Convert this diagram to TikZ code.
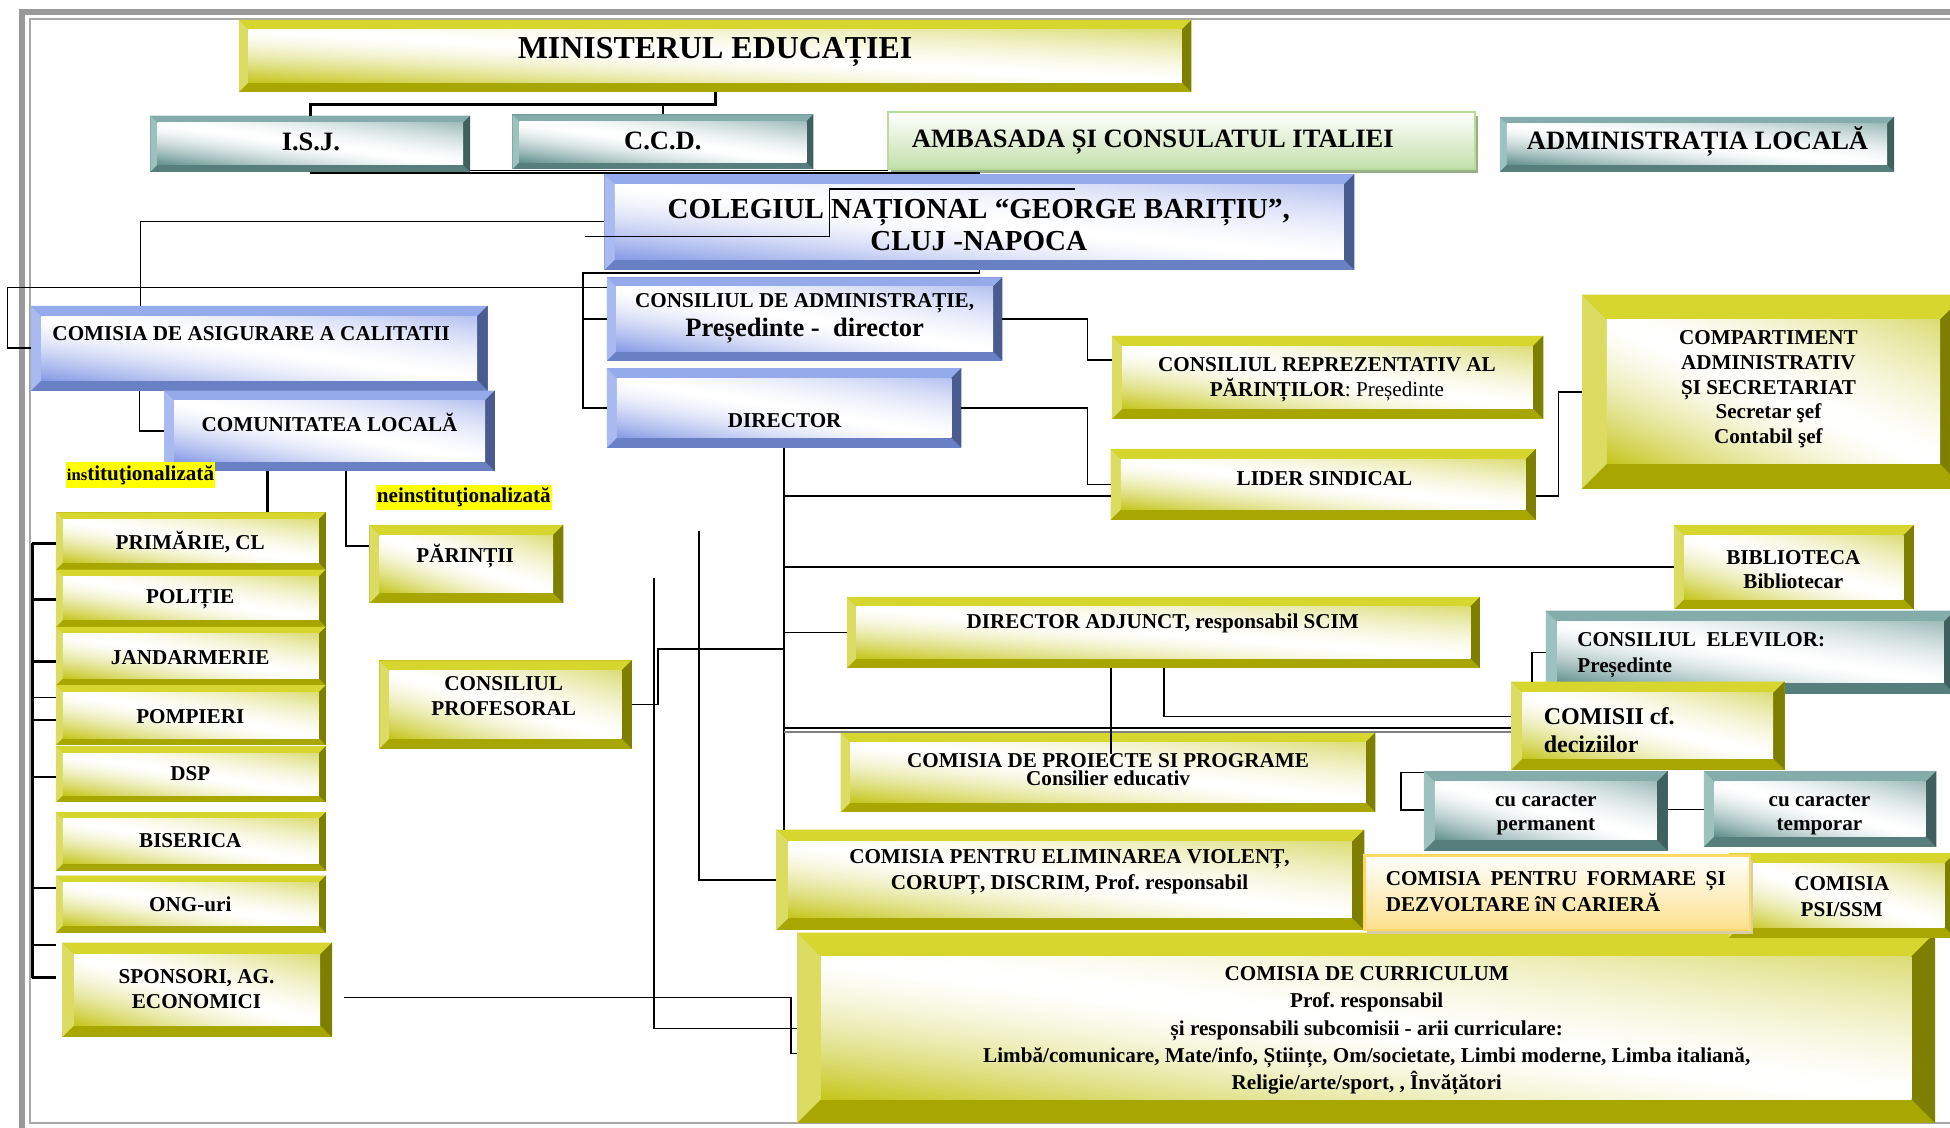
\documentclass[tikz,border=0pt]{standalone}
\usepackage{fontspec}
\setmainfont{Liberation Serif}
\usetikzlibrary{fit,calc,shadows}

\definecolor{olT}{HTML}{D6D62E}
\definecolor{olL}{HTML}{DCDC62}
\definecolor{olB}{HTML}{A8A600}
\definecolor{olR}{HTML}{7E7E00}
\definecolor{tlT}{HTML}{84ACAA}
\definecolor{tlL}{HTML}{9DC1BF}
\definecolor{tlB}{HTML}{557E7C}
\definecolor{tlR}{HTML}{3F605E}
\definecolor{blT}{HTML}{94AAEA}
\definecolor{blL}{HTML}{A8BAF0}
\definecolor{blB}{HTML}{6A80C4}
\definecolor{blR}{HTML}{4A5B90}
\definecolor{grO}{HTML}{B8DC9E}
\definecolor{grF}{HTML}{C2E0AA}
\definecolor{grS}{HTML}{98B088}
\definecolor{peO}{HTML}{FFD966}
\definecolor{peF}{HTML}{FDE08C}
\definecolor{peS}{HTML}{D9CDA6}
\definecolor{framegray}{HTML}{999999}
\definecolor{hilite}{HTML}{FFFF00}

% face shadings: colour in the lower left corner, white band on the
% other diagonal, lighter colour in the upper right corner
\pgfdeclarefunctionalshading{olface}{\pgfpointorigin}{\pgfpoint{100bp}{100bp}}{}{
  add 50 div 2 sub dup abs dup sqrt 3 1 roll 0.8 mul exch 0.2 mul sub mul
  dup 0.23 mul 1 exch sub exch dup 0.23 mul 1 exch sub exch 0.9 mul 1 exch sub}
\pgfdeclarefunctionalshading{tlface}{\pgfpointorigin}{\pgfpoint{100bp}{100bp}}{}{
  add 50 div 2 sub dup abs dup sqrt 3 1 roll 0.8 mul exch 0.2 mul sub mul
  dup 0.63 mul 1 exch sub exch dup 0.44 mul 1 exch sub exch 0.45 mul 1 exch sub}
\pgfdeclarefunctionalshading{blface}{\pgfpointorigin}{\pgfpoint{100bp}{100bp}}{}{
  add 50 div 2 sub dup abs dup sqrt 3 1 roll 0.8 mul exch 0.2 mul sub mul
  dup 0.48 mul 1 exch sub exch dup 0.40 mul 1 exch sub exch 0.10 mul 1 exch sub}

\newcommand{\txtnorm}{\fontsize{10.2}{12}\selectfont}
\newcommand{\txtmid}{\fontsize{12.8}{15}\selectfont}
\newcommand{\txtbig}{\fontsize{15.4}{18}\selectfont}

\begin{document}
\frenchspacing
\begin{tikzpicture}[
  x=0.6pt, y=-0.6pt,
  bw/.store in=\bvw, bw=3.3pt,
  bevelbox/.style={inner sep=0pt, outer sep=0pt, fill=#1B,
    path picture={
      \coordinate (pA) at (path picture bounding box.north west);
      \coordinate (pB) at (path picture bounding box.north east);
      \coordinate (pC) at (path picture bounding box.south east);
      \coordinate (pD) at (path picture bounding box.south west);
      \coordinate (qA) at ($(pA)+(\bvw,-\bvw)$);
      \coordinate (qB) at ($(pB)+(-\bvw,-\bvw)$);
      \coordinate (qC) at ($(pC)+(-\bvw,\bvw)$);
      \coordinate (qD) at ($(pD)+(\bvw,\bvw)$);
      \fill[#1T] (pA) -- (pB) -- (qB) -- (qA) -- cycle;
      \fill[#1L] (pA) -- (qA) -- (qD) -- (pD) -- cycle;
      \fill[#1R] (pB) -- (pC) -- (qC) -- (qB) -- cycle;
      \shade[shading=#1face] (qA) rectangle (qC);
    }},
  flatbox/.style={inner sep=0pt, outer sep=0pt, draw=#1O, line width=1.2pt,
    top color=white, bottom color=#1F,
    drop shadow={fill=#1S, shadow xshift=1.5pt, shadow yshift=-2pt, opacity=1}},
  txt/.style={inner sep=0pt, align=center, font=\bfseries\txtnorm},
  hlt/.style={fill=hilite, inner xsep=0.5pt, inner ysep=1.5pt, font=\bfseries\txtnorm},
  ln/.style={line width=0.75pt},
  lnk/.style={line width=1.4pt}
]
  \useasboundingbox (0,0) rectangle (1568,907);
  \clip (0,0) rectangle (1568,907);

  % page frame
  \draw[framegray, line width=3pt] (18,907) -- (18,9.5) -- (1568,9.5);
  \draw[framegray!85, line width=0.9pt] (1568,903) -- (24,903) -- (24,15) -- (1568,15);

  % top level
  \node[bevelbox=ol, bw=4.6pt, fit={(192,16) (958,74)}] (min) {};
  \node[bevelbox=tl, bw=3.4pt, fit={(121,93) (378,138)}] (isj) {};
  \node[bevelbox=tl, bw=3.4pt, fit={(412,92) (654,136)}] (ccd) {};
  \node[flatbox=gr, fit={(714,90) (1186,136)}] (amb) {};
  \node[bevelbox=tl, bw=3.4pt, fit={(1206,94) (1523,138)}] (adm) {};
  \node[bevelbox=bl, bw=5pt, fit={(486,140) (1089,217)}] (col) {};

  % school management
  \node[bevelbox=bl, bw=4.5pt, fit={(488,223) (806,290)}] (ca) {};
  \node[bevelbox=bl, bw=4.8pt, fit={(488,296) (773,360)}] (dir) {};
  \node[bevelbox=bl, bw=5pt, fit={(25,246) (392,314)}] (cac) {};
  \node[bevelbox=bl, bw=4.8pt, fit={(132,314) (398,379)}] (com) {};

  % local community
  \node[bevelbox=ol, fit={(45,412) (262,458)}] (prim) {};
  \node[bevelbox=ol, fit={(45,458) (262,504)}] (pol) {};
  \node[bevelbox=ol, fit={(45,504) (262,551)}] (jand) {};
  \node[bevelbox=ol, fit={(45,551) (262,599)}] (pomp) {};
  \node[bevelbox=ol, fit={(45,600) (262,645)}] (dsp) {};
  \node[bevelbox=ol, fit={(45,653) (262,700)}] (bis) {};
  \node[bevelbox=ol, fit={(45,704) (262,750)}] (ong) {};
  \node[bevelbox=ol, bw=5.8pt, fit={(50,758) (267,834)}] (spon) {};
  \node[bevelbox=ol, bw=5pt, fit={(297,422) (453,485)}] (par) {};
  \node[bevelbox=ol, bw=5pt, fit={(305,531) (508,602)}] (prof) {};

  % right side
  \node[bevelbox=ol, bw=5pt, fit={(894,270) (1241,337)}] (crp) {};
  \node[bevelbox=ol, bw=5pt, fit={(893,361) (1235,418)}] (lid) {};
  \node[bevelbox=ol, bw=12pt, fit={(1272,237) (1580,393)}] (comp) {};
  \node[bevelbox=ol, bw=5pt, fit={(1346,422) (1539,490)}] (bib) {};
  \node[bevelbox=tl, bw=5.4pt, fit={(1243,491) (1572,558)}] (elev) {};
  \node[bevelbox=ol, bw=5.5pt, fit={(1215,548) (1435,619)}] (comisii) {};
  \node[bevelbox=tl, bw=5.2pt, fit={(1145,620) (1341,684)}] (ccp) {};
  \node[bevelbox=tl, bw=5.2pt, fit={(1370,620) (1557,681)}] (cct) {};

  % commissions
  \node[bevelbox=ol, bw=4.6pt, fit={(681,480) (1190,537)}] (dadj) {};
  \node[bevelbox=ol, bw=4.6pt, fit={(676,589) (1106,653)}] (pro) {};
  \node[bevelbox=ol, bw=11.5pt, fit={(641,750) (1556,903)}] (curr) {};
  \node[bevelbox=ol, bw=6pt, fit={(624,667) (1097,748)}] (elim) {};
  \node[bevelbox=ol, bw=5pt, fit={(1390,686) (1572,754)}] (psi) {};
  \node[flatbox=pe, fit={(1097,688) (1407,748)}] (cfd) {};

  % texts
  \node[txt, font=\bfseries\txtbig] (minT) at (575,42) {MINISTERUL EDUCAȚIEI};
  \node[txt, font=\bfseries\txtmid] (isjT) at (250,114) {I.S.J.};
  \node[txt, font=\bfseries\txtmid] (ccdT) at (533,113) {C.C.D.};
  \node[txt, font=\bfseries\txtmid] (ambT) at (927,114) {AMBASADA ȘI CONSULATUL ITALIEI};
  \node[txt, font=\bfseries\txtmid] (admT) at (1365,114) {ADMINISTRAȚIA LOCALĂ};
  \node[txt, font=\bfseries\fontsize{14}{15.6}\selectfont] (colT) at (787,181)
    {COLEGIUL NAȚIONAL “GEORGE BARIȚIU”,\\CLUJ -NAPOCA};
  \node[txt, font=\bfseries\fontsize{10.2}{14.4}\selectfont] (caT) at (647,256)
    {CONSILIUL DE ADMINISTRAȚIE,\\{\txtmid Președinte -\ \ director}};
  \node[txt] (dirT) at (631,338) {DIRECTOR};
  \node[txt] (cacT) at (202,268) {COMISIA DE ASIGURARE A CALITATII};
  \node[txt] (comT) at (265,340) {COMUNITATEA LOCALĂ};
  \node[hlt] (inst) at (113,382) {{\fontsize{8}{9}\selectfont ins}tituţionalizată};
  \node[hlt] (neinst) at (373,400) {neinstituţionalizată};

  \node[txt] (primT) at (153,436) {PRIMĂRIE, CL};
  \node[txt] (polT) at (153,482) {POLIȚIE};
  \node[txt] (jandT) at (153,529) {JANDARMERIE};
  \node[txt] (pompT) at (153,576) {POMPIERI};
  \node[txt] (dspT) at (153,622) {DSP};
  \node[txt] (bisT) at (153,676) {BISERICA};
  \node[txt] (ongT) at (153,727) {ONG-uri};
  \node[txt] (sponT) at (158,795) {SPONSORI, AG.\\ECONOMICI};
  \node[txt] (parT) at (374,447) {PĂRINȚII};
  \node[txt] (profT) at (405,560) {CONSILIUL\\PROFESORAL};

  \node[txt] (crpT) at (1067,305) {CONSILIUL REPREZENTATIV AL\\PĂRINȚILOR{\mdseries: Președinte}};
  \node[txt] (lidT) at (1065,385) {LIDER SINDICAL};
  \node[txt, font=\bfseries\fontsize{10.2}{11.85}\selectfont] (compT) at (1422,313)
    {COMPARTIMENT\\ADMINISTRATIV\\ȘI SECRETARIAT\\Secretar şef\\Contabil şef};
  \node[txt] (bibT) at (1442,458) {BIBLIOTECA\\Bibliotecar};
  \node[txt, anchor=west, align=left, font=\bfseries\fontsize{10.2}{12.6}\selectfont] (elevT)
    at (1268,527) {CONSILIUL\ \ ELEVILOR:\\Președinte};
  \node[txt, anchor=west, align=left, font=\bfseries\fontsize{11.6}{13.2}\selectfont] (comisiiT)
    at (1241,587) {COMISII cf.\\deciziilor};
  \node[txt, font=\bfseries\fontsize{10.2}{11.4}\selectfont] (ccpT) at (1243,655) {cu caracter\\permanent};
  \node[txt, font=\bfseries\fontsize{10.2}{11.4}\selectfont] (cctT) at (1463,655) {cu caracter\\temporar};
  \node[txt, anchor=west, align=left, font=\bfseries\fontsize{10.2}{12.6}\selectfont] (cfdT)
    at (1114,717) {\makebox[164pt][s]{COMISIA PENTRU FORMARE ȘI}\\DEZVOLTARE îN CARIERĂ};
  \node[txt, font=\bfseries\fontsize{10.2}{12.6}\selectfont] (psiT) at (1481,721) {COMISIA\\PSI/SSM};

  \node[txt] (dadjT) at (935,501) {DIRECTOR ADJUNCT, responsabil SCIM};
  \node[txt, font=\bfseries\fontsize{10.2}{8.4}\selectfont] (proT) at (891,619)
    {COMISIA DE PROIECTE SI PROGRAME\\Consilier educativ};
  \node[txt, font=\bfseries\fontsize{10.2}{12.6}\selectfont] (elimT) at (860,701)
    {COMISIA PENTRU ELIMINAREA VIOLENȚ,\\CORUPȚ, DISCRIM, Prof. responsabil};
  \node[txt, font=\bfseries\fontsize{10.2}{13.2}\selectfont] (currT) at (1099,829)
    {COMISIA DE CURRICULUM\\Prof. responsabil\\și responsabili subcomisii - arii curriculare:\\
     Limbă/comunicare, Mate/info, Științe, Om/societate, Limbi moderne, Limba italiană,\\
     Religie/arte/sport, , Învățători};

  % links at the top
  \draw[lnk] (min.south) -- (min.south |- 0,84) -| (isj.north);
  \draw[ln] (ccd.north) -- (ccd.north |- 0,84);
  \draw[ln] (isj.south) -- (isj.south |- 0,139) -| (col.north);
  \draw[ln] (isj.east |- 0,137) -- (amb.west |- 0,137);
  \draw[ln] (col.west |- 0,178) -| (113,0 |- cac.north);
  \coordinate (s1) at (470,190);
  \coordinate (s2) at (864,152);
  \draw[ln] (s1) -| (667,0 |- s2) -- (s2);

  % college to board, director, quality commission
  \draw[ln] (col.south) -- (col.south |- 0,219.5) -| (469,0 |- dir.west) -- (dir.west);
  \draw[ln] (469,0 |- ca.west) -- (ca.west);
  \draw[ln] (ca.west |- 0,231) -| (6,0 |- cac.west) -- (cac.west);
  \draw[ln] (112,0 |- cac.south) |- (com.west);

  % community
  \draw[lnk] (215,0 |- com.south) -- (215,0 |- prim.north);
  \draw[ln] (278,0 |- com.south) |- (par.west |- 0,439);
  \coordinate (brT) at (26,437);
  \coordinate (brB) at (26,786);
  \draw[lnk] (brT) -- (brB);
  \foreach \yy/\lw in {437/1.6pt,482/1.3pt,532/1.2pt,561/0.75pt,579/1pt,625/0.75pt,714/0.75pt,760/0.75pt,786/1pt}
    \draw[line width=\lw] (brT |- 0,\yy) -- (prim.west |- 0,\yy);

  % council of teachers and loose links
  \draw[ln] (prof.east) -| (529,522) -- (dir.south |- 0,522);
  \coordinate (v1) at (526,465);
  \draw[ln] (v1) |- (curr.west |- 0,827);
  \coordinate (v2) at (562,427);
  \draw[ln] (v2) |- (elim.west);
  \coordinate (v3) at (277,802);
  \draw[ln] (v3) -| (636,847) -- (curr.west |- 0,847);

  % director trunk
  \draw[ln] (dir.south) -- (dir.south |- elim.north);
  \draw[ln] (dir.south |- 0,399) -- (lid.west |- 0,399);
  \draw[ln] (dir.south |- bib.west) -- (bib.west);
  \draw[ln] (dir.south |- dadj.west) -- (dadj.west);
  \draw[ln] (dir.south |- 0,585.5) -- (comisii.west |- 0,585.5);
  \draw[line width=0.6pt, gray] (dir.south |- 0,588.5) -- (comisii.west |- 0,588.5);
  \draw[ln] (dir.east) -| (874.5,0 |- lid.west) -- (lid.west);
  \draw[ln] (ca.east) -| (874.5,289.5) -- (crp.west |- 0,289.5);
  \draw[ln] (lid.east |- 0,399) -| (1253,0 |- comp.west) -- (comp.west);

  % deputy director and commissions
  \coordinate (v4) at (893.5,606);
  \draw[ln] (893.5,0 |- dadj.south) -- (v4);
  \draw[ln] (936,0 |- dadj.south) |- (comisii.west |- 0,576);
  \draw[ln] (elev.west |- 0,524.5) -| (1232,0 |- comisii.north);
  \draw[ln] (ccp.west |- 0,621) -| (1126.7,651.4) -- (ccp.west |- 0,651.4);
  \draw[ln] (ccp.east |- 0,651) -- (cct.west |- 0,651);
\end{tikzpicture}
\end{document}
